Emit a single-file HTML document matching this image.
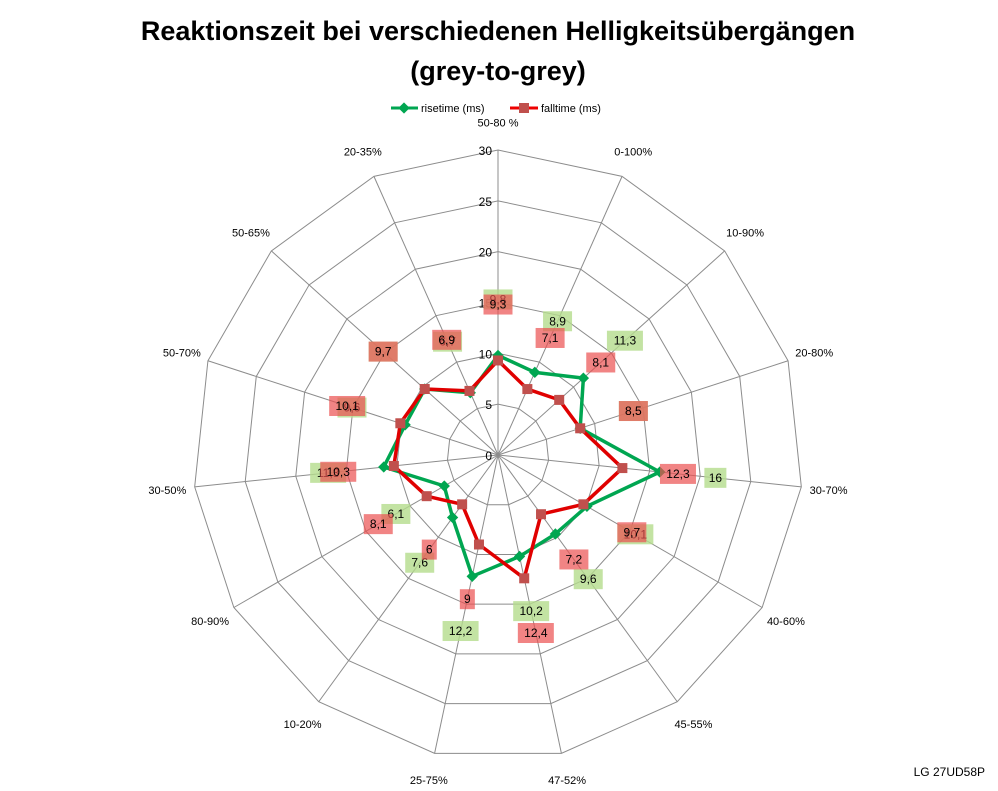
<!DOCTYPE html>
<html><head><meta charset="utf-8"><style>
body{margin:0;background:#fff;font-family:"Liberation Sans",sans-serif}
svg text{font-family:"Liberation Sans",sans-serif}
</style></head><body>
<svg id="c" width="998" height="786">
<text x="498" y="40" text-anchor="middle" font-size="27" font-weight="bold">Reaktionszeit bei verschiedenen Helligkeitsübergängen</text>
<text x="498" y="80" text-anchor="middle" font-size="27" font-weight="bold">(grey-to-grey)</text>
<g>
<line x1="391" y1="108" x2="418" y2="108" stroke="#00a651" stroke-width="3"/><rect x="400" y="104" width="8" height="8" fill="#00a651" transform="rotate(45 404 108)"/>
<text x="421" y="112" font-size="11">risetime (ms)</text>
<line x1="510" y1="108" x2="538" y2="108" stroke="#e00" stroke-width="3"/><rect x="519" y="103" width="10" height="10" fill="#c0504d"/>
<text x="541" y="112" font-size="11">falltime (ms)</text>
</g>
<text x="985" y="776" text-anchor="end" font-size="12">LG 27UD58P</text>
</svg>
<script>
const categories=["50-80 %","0-100%","10-90%","20-80%","30-70%","40-60%","45-55%","47-52%","25-75%","10-20%","80-90%","30-50%","50-70%","50-65%","20-35%"];
const rise=[9.8,8.9,11.3,8.5,16,10.1,9.6,10.2,12.2,7.6,6.1,11.3,9.6,9.7,6.7];
const fall=[9.3,7.1,8.1,8.5,12.3,9.7,7.2,12.4,9,6,8.1,10.3,10.1,9.7,6.9];
const ticks=[0,5,10,15,20,25,30];
const svg=document.getElementById('c');const NS='http://www.w3.org/2000/svg';
const cx=498,cy=455,R=305,MAX=30,N=categories.length;
function pt(i,v){const a=i*2*Math.PI/N;const r=v/MAX*R;return [cx+r*Math.sin(a),cy-r*Math.cos(a)];}
function mk(t,at,name){const e=document.createElementNS(NS,t);for(const k in at)e.setAttribute(k,at[k]);


svg.appendChild(e);return e;}
ticks.slice(1).forEach(t=>{mk('polygon',{points:categories.map((c,i)=>pt(i,t).join(',')).join(' '),fill:'none',stroke:'#8c8c8c','stroke-width':1},'grid-ring');});
categories.forEach((c,i)=>{const p=pt(i,MAX);mk('line',{x1:cx,y1:cy,x2:p[0],y2:p[1],stroke:'#8c8c8c','stroke-width':1},'grid-spoke');
const q=pt(i,MAX*1.09);const l=mk('text',{x:q[0],y:q[1]+4,'text-anchor':'middle','font-size':11},'category-label');l.textContent=c;});
ticks.forEach(t=>{const p=pt(0,t);const l=mk('text',{x:p[0]-6,y:p[1]+5,'text-anchor':'end','font-size':12},'tick-label');l.textContent=t;});
function series(vals,col,name){mk('polygon',{points:vals.map((v,i)=>pt(i,v).join(',')).join(' '),fill:'none',stroke:col,'stroke-width':3.5,'stroke-linejoin':'round'},name+'-line');}
series(rise,'#00a651','rise');series(fall,'#e00000','fall');
rise.forEach((v,i)=>{const p=pt(i,v);mk('rect',{x:p[0]-4,y:p[1]-4,width:8,height:8,fill:'#00a651',transform:`rotate(45 ${p[0]} ${p[1]})`},'rise-point');});
fall.forEach((v,i)=>{const p=pt(i,v);mk('rect',{x:p[0]-5,y:p[1]-5,width:10,height:10,fill:'#c0504d'},'fall-point');});
function labels(vals,bg,name){vals.forEach((v,i)=>{const p=pt(i,v+5.5);const s=String(v).replace('.',',');const w=s.length*7+8;
mk('rect',{x:p[0]-w/2,y:p[1]-10,width:w,height:20,fill:bg},name+'-label-box');
const t=mk('text',{x:p[0],y:p[1]+4,'text-anchor':'middle','font-size':12},name+'-value-label');t.textContent=s;});}
labels(rise,'rgba(180,220,140,0.8)','rise');labels(fall,'rgba(235,80,80,0.7)','fall');
</script>
</body></html>
